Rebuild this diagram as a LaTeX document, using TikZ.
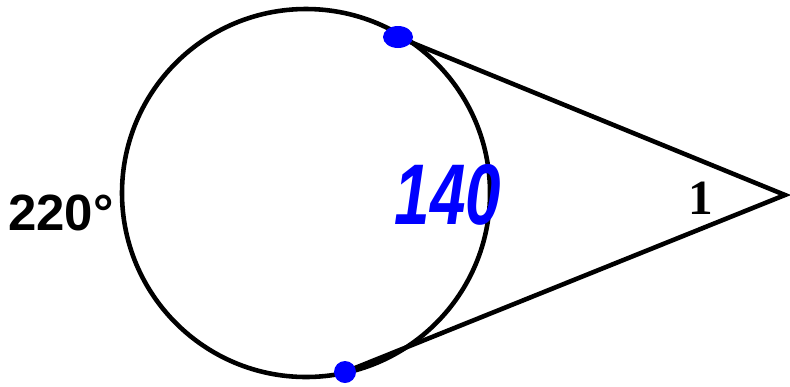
\documentclass[tikz,border=0pt]{standalone}
\usepackage{fontspec}
\setmainfont{Liberation Sans}
\newfontfamily\serifnum{Liberation Serif}
\begin{document}
\begin{tikzpicture}[x=0.02cm, y=-0.02cm, line width=2.6pt]
  \useasboundingbox (0,0) rectangle (790,386);
  \coordinate (O) at (306,193);
  \coordinate (T) at (398,37);
  \coordinate (B) at (345,372);
  \coordinate (P) at (785,195);
  \draw (O) circle [radius=184];
  \draw (T) -- (P) -- (B);
  \fill[blue] (T) ellipse [x radius=15, y radius=11];
  \fill[blue] (B) circle [radius=11];
  \node[anchor=west, inner sep=0pt, font=\bfseries\fontsize{29}{30}\selectfont] (arc) at (6,213) {220°};
  \node[inner sep=0pt, font=\serifnum\bfseries\fontsize{28}{29}\selectfont] (ang) at (701,198) {1};
  \node[inner sep=0pt, text=blue, xscale=0.74, transform shape, font=\bfseries\itshape\fontsize{49}{50}\selectfont] (minor) at (448,195) {140};
\end{tikzpicture}
\end{document}
